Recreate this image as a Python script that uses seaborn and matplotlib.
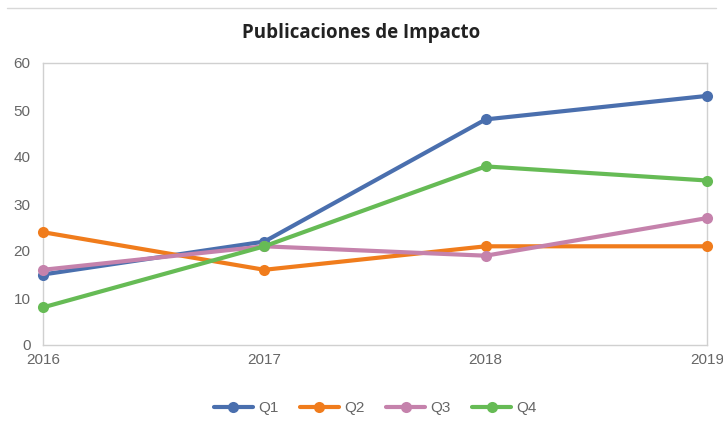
import pandas as pd
import matplotlib.pyplot as plt
import seaborn as sns

# Data
years = [2016, 2017, 2018, 2019]
q1 = [15, 22, 48, 53]
q2 = [24, 16, 21, 21]
q3 = [16, 21, 19, 27]
q4 = [8, 21, 38, 35]

series = ['Q1', 'Q2', 'Q3', 'Q4']
colors = ['#4a6fae', '#f07c1c', '#c582ac', '#66bb55']

df = pd.DataFrame({'year': years, 'Q1': q1, 'Q2': q2, 'Q3': q3, 'Q4': q4})
long_df = df.melt(id_vars='year', var_name='serie', value_name='valor')

sns.set_style('white')
plt.rcParams['font.family'] = ['Liberation Sans', 'DejaVu Sans']

fig = plt.figure(figsize=(7.23, 4.25), dpi=100)
ax = fig.add_axes([43 / 723, 1 - 345 / 425, (707 - 43) / 723, (345 - 63) / 425])

sns.lineplot(data=long_df, x='year', y='valor', hue='serie', hue_order=series,
             palette=colors, marker='o', markersize=8, markeredgewidth=0,
             linewidth=3, ax=ax)
for line in ax.lines:
    line.set_clip_on(False)

ax.set_xlim(2016, 2019)
ax.set_ylim(0, 60)
ax.set_xticks(years)
ax.set_yticks(range(0, 61, 10))
ax.set_xlabel('')
ax.set_ylabel('')
for s in ax.spines.values():
    s.set_color('#d0d0d0')
    s.set_linewidth(1)
    s.set_zorder(0)
ax.tick_params(axis='y', length=5, color='#d0d0d0', labelsize=11, labelcolor='#666666', pad=4)
ax.tick_params(axis='x', length=0, labelsize=11, labelcolor='#666666', pad=6)

fig.text(0.5, 1 - 33 / 425, 'Publicaciones de Impacto', ha='center', va='center',
         fontsize=13.5, fontweight='bold', family=['Open Sans', 'DejaVu Sans'], color='#222222')
fig.add_artist(plt.Line2D([0.01, 0.99], [1 - 8 / 425, 1 - 8 / 425], color='#d8d8d8', lw=1))

handles, labels = ax.get_legend_handles_labels()
ax.legend(handles, labels, loc='center', bbox_to_anchor=(0.5, -0.225), ncol=4, frameon=False,
          fontsize=11, labelcolor='#666666', handlelength=2.6, handletextpad=0.3, columnspacing=1.4)

fig.savefig('out.png', dpi=100)
